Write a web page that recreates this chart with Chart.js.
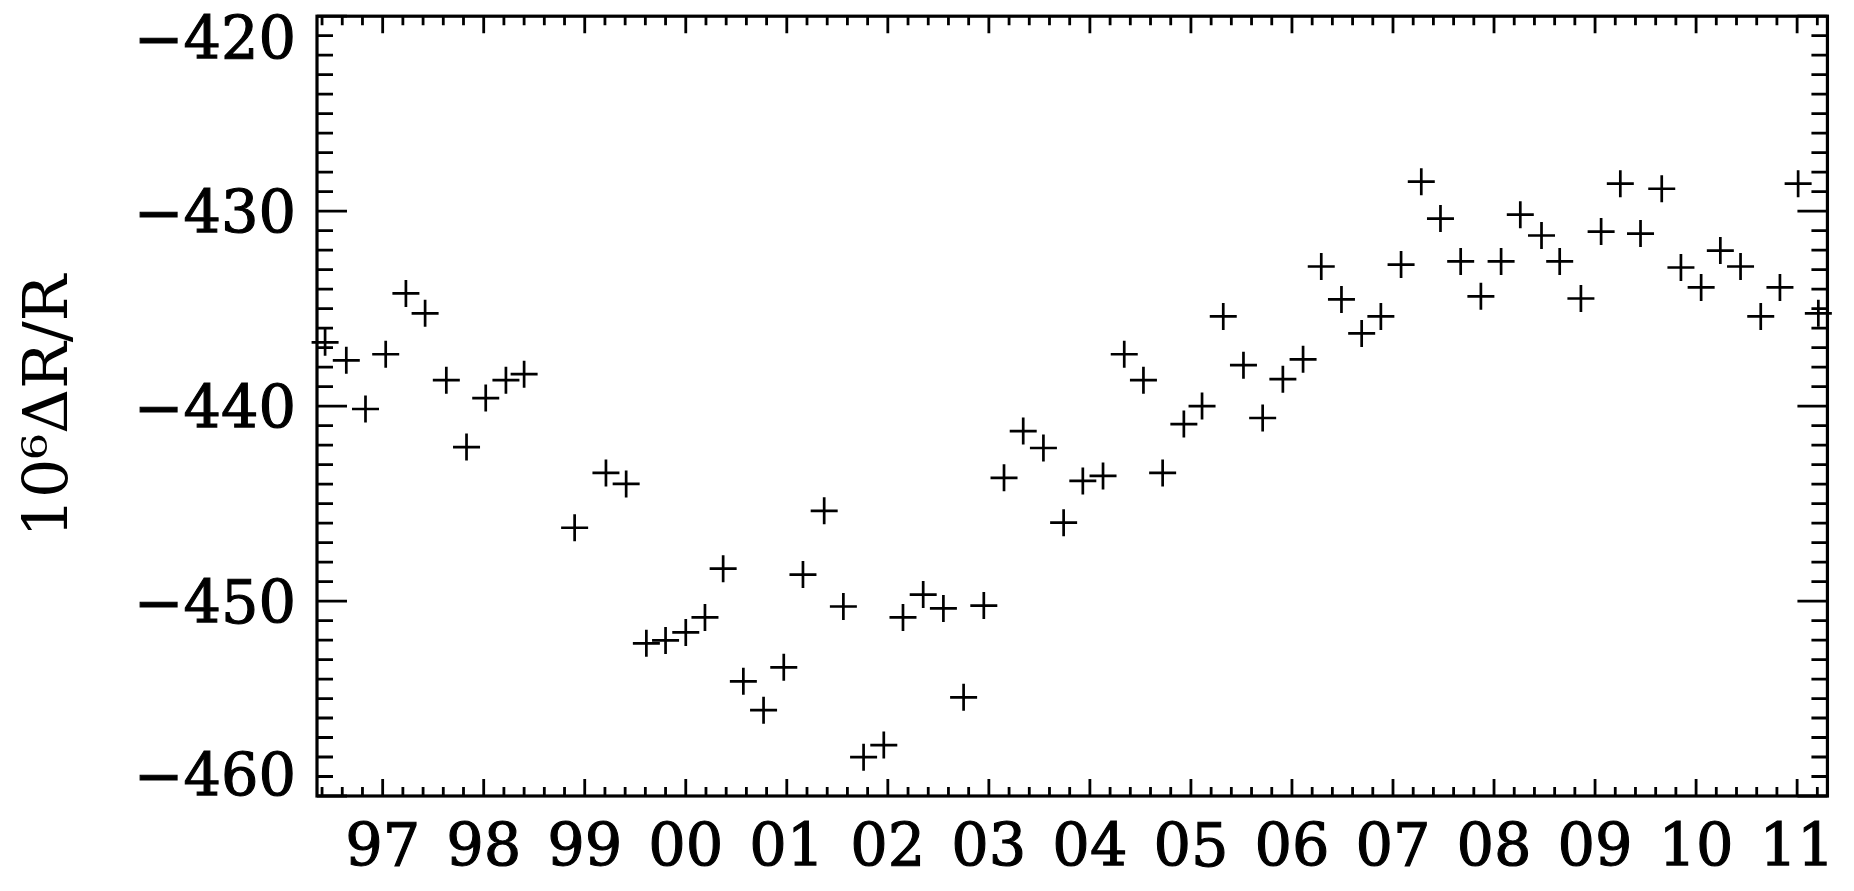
<!DOCTYPE html>
<html lang="en">
<head>
    <meta charset="UTF-8">
    <title>10^6 dR/R</title>
    <script src="https://cdn.jsdelivr.net/npm/chart.js"></script>
    <style>
        body {
            margin: 0;
            padding: 0;
            background-color: #ffffff;
        }
        .chart-container {
            width: 1854px;
            height: 891px;
            position: relative;
        }
    </style>
</head>
<body>
    <div class="chart-container">
        <canvas id="shift-chart"></canvas>
    </div>
    <script>
        // decimal year of each measurement
        const epochs = [
            1996.43, 1996.64, 1996.83, 1997.03, 1997.23, 1997.42, 1997.63, 1997.83, 1998.02, 1998.22,
            1998.40, 1998.90, 1999.21, 1999.41, 1999.61, 1999.80, 2000.00, 2000.19, 2000.37, 2000.57,
            2000.77, 2000.97, 2001.16, 2001.37, 2001.56, 2001.76, 2001.96, 2002.15, 2002.35, 2002.55,
            2002.75, 2002.95, 2003.15, 2003.34, 2003.54, 2003.74, 2003.93, 2004.13, 2004.34, 2004.53,
            2004.72, 2004.93, 2005.11, 2005.32, 2005.52, 2005.71, 2005.91, 2006.11, 2006.29, 2006.49,
            2006.69, 2006.88, 2007.08, 2007.28, 2007.47, 2007.67, 2007.87, 2008.07, 2008.26, 2008.47,
            2008.65, 2008.86, 2009.06, 2009.25, 2009.45, 2009.66, 2009.85, 2010.05, 2010.24, 2010.44,
            2010.64, 2010.83, 2011.01, 2011.21
        ];
        // 10^6 dR/R
        const shifts = [
            -436.73, -437.65, -440.15, -437.34, -434.22, -435.24, -438.67, -442.10, -439.59, -438.67,
            -438.36, -446.24, -443.43, -443.99, -452.17, -452.02, -451.61, -450.84, -448.34, -454.12,
            -455.60, -453.40, -448.64, -445.37, -450.28, -458.01, -457.39, -450.84, -449.67, -450.38,
            -454.94, -450.23, -443.68, -441.28, -442.15, -445.98, -443.84, -443.58, -437.34, -438.67,
            -443.43, -440.92, -440.00, -435.40, -437.90, -440.61, -438.62, -437.60, -432.84, -434.53,
            -436.27, -435.40, -432.74, -428.49, -430.38, -432.58, -434.37, -432.58, -430.18, -431.25,
            -432.58, -434.48, -431.05, -428.59, -431.15, -428.85, -432.89, -433.91, -432.02, -432.84,
            -435.40, -433.91, -428.59, -435.24
        ];

        const xTickYears = [1997, 1998, 1999, 2000, 2001, 2002, 2003, 2004, 2005, 2006, 2007, 2008, 2009, 2010, 2011];
        const xTickLabels = ['97', '98', '99', '00', '01', '02', '03', '04', '05', '06', '07', '08', '09', '10', '11'];
        const yTickValues = [-460, -450, -440, -430, -420];
        const yTickLabels = ['\u2212460', '\u2212450', '\u2212440', '\u2212430', '\u2212420'];

        const FONT = 'DejaVu Serif';
        const LABEL_SIZE = 59;
        const TEXT_STROKE = 1.1;

        // box with inward ticks on all four sides, plus the y labels
        // (end labels are pulled inside the frame like the original)
        const framePlugin = {
            id: 'frame',
            afterDatasetsDraw(chart) {
                const ctx = chart.ctx;
                const xs = chart.scales.x;
                const ys = chart.scales.y;
                const {left, right, top, bottom} = chart.chartArea;

                ctx.save();
                ctx.strokeStyle = '#000';
                ctx.lineWidth = 2.8;
                ctx.beginPath();
                for (let v = -460; v <= -420; v++) {
                    const y = ys.getPixelForValue(v);
                    const len = v % 10 === 0 ? 30 : 16;
                    ctx.moveTo(left, y); ctx.lineTo(left + len, y);
                    ctx.moveTo(right, y); ctx.lineTo(right - len, y);
                }
                for (let k = Math.ceil(xs.min * 5); k <= Math.floor(xs.max * 5); k++) {
                    const x = xs.getPixelForValue(k / 5);
                    const len = k % 5 === 0 ? 17 : 9;
                    ctx.moveTo(x, bottom); ctx.lineTo(x, bottom - len);
                    ctx.moveTo(x, top); ctx.lineTo(x, top + len);
                }
                ctx.stroke();

                ctx.lineWidth = 3.2;
                ctx.strokeRect(left, top, right - left, bottom - top);

                ctx.fillStyle = '#000';
                ctx.lineWidth = TEXT_STROKE;
                ctx.font = LABEL_SIZE + 'px "' + FONT + '"';
                ctx.textAlign = 'right';
                ctx.textBaseline = 'alphabetic';
                const half = 0.729 * LABEL_SIZE / 2;
                yTickValues.forEach((v, i) => {
                    let y = ys.getPixelForValue(v);
                    y = Math.min(Math.max(y, top + half), bottom - half);
                    ctx.fillText(yTickLabels[i], left - 21, y + half);
                    ctx.strokeText(yTickLabels[i], left - 21, y + half);
                });
                ctx.restore();
            }
        };

        Chart.defaults.color = '#000';

        const ctx = document.getElementById('shift-chart').getContext('2d');
        new Chart(ctx, {
            type: 'scatter',
            data: {
                datasets: [{
                    data: epochs.map((t, i) => ({x: t, y: shifts[i]})),
                    pointStyle: 'cross',
                    pointRadius: 13.5,
                    pointBorderWidth: 2.7,
                    borderColor: '#000',
                    backgroundColor: '#000',
                    clip: false
                }]
            },
            options: {
                responsive: true,
                maintainAspectRatio: false,
                devicePixelRatio: 1,
                animation: false,
                layout: {
                    padding: {left: 0, right: 17, top: 14, bottom: 0}
                },
                plugins: {
                    legend: {display: false},
                    tooltip: {enabled: false}
                },
                scales: {
                    x: {
                        type: 'linear',
                        min: 1996.35,
                        max: 2011.30,
                        grid: {display: false, drawTicks: false},
                        border: {display: false},
                        afterBuildTicks: (scale) => {
                            scale.ticks = xTickYears.map(v => ({value: v}));
                        },
                        afterFit: (scale) => { scale.height = 95; },
                        ticks: {
                            autoSkip: false,
                            maxRotation: 0,
                            padding: 19,
                            font: {family: FONT, size: LABEL_SIZE},
                            textStrokeColor: '#000',
                            textStrokeWidth: TEXT_STROKE,
                            callback: (value, index) => xTickLabels[index]
                        }
                    },
                    y: {
                        type: 'linear',
                        min: -460,
                        max: -420,
                        grid: {display: false, drawTicks: false},
                        border: {display: false},
                        afterFit: (scale) => { scale.width = 317; },
                        ticks: {display: false},
                        title: {
                            display: true,
                            text: '10\u2076\u0394R/R',
                            font: {family: FONT, size: 62},
                            padding: {top: 14, bottom: 0}
                        }
                    }
                }
            },
            plugins: [framePlugin]
        });
    </script>
</body>
</html>
